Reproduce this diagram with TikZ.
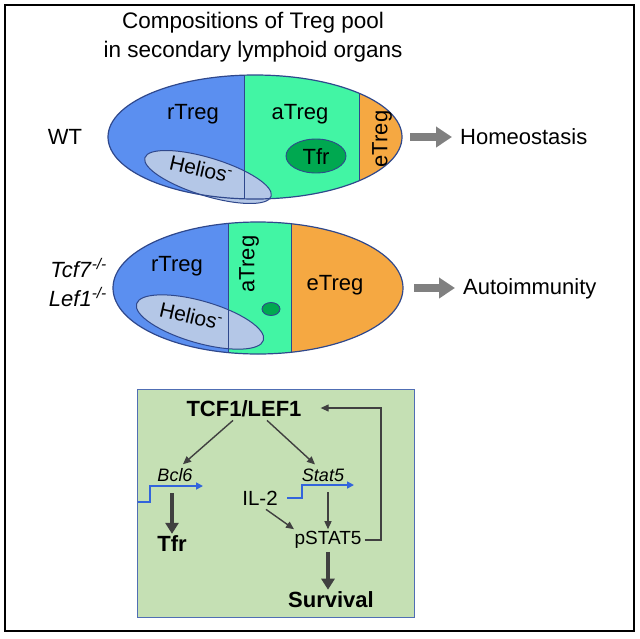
\documentclass[tikz,border=0pt]{standalone}
\usepackage{fontspec}
\setmainfont{Liberation Sans}
\usetikzlibrary{arrows.meta}
\definecolor{rblue}{RGB}{91,143,240}
\definecolor{agreen}{RGB}{66,245,164}
\definecolor{eorange}{RGB}{245,168,66}
\definecolor{tfrgreen}{RGB}{0,168,80}
\definecolor{helblue}{RGB}{180,199,231}
\definecolor{edgeblue}{RGB}{47,72,140}
\definecolor{boxgreen}{RGB}{197,224,180}
\definecolor{boxedge}{RGB}{80,110,180}
\definecolor{promo}{RGB}{50,100,220}
\definecolor{darr}{RGB}{64,64,64}
\definecolor{garr}{RGB}{128,128,128}
\tikzset{
  lbl/.style={inner sep=0pt, font=\fontsize{22}{26}\selectfont},
  hel/.style={inner sep=0pt, font=\fontsize{21}{24}\selectfont},
  gene/.style={inner sep=0pt, font=\fontsize{18}{22}\selectfont\itshape},
  mol/.style={inner sep=0pt, font=\fontsize{19}{23}\selectfont},
  boldlbl/.style={inner sep=0pt, font=\fontsize{22}{26}\selectfont\bfseries},
  divider/.style={draw=edgeblue, line width=0.9pt},
  outline/.style={draw=edgeblue, line width=1.2pt},
  blockarrow/.style={garr, line width=8pt, -{Triangle[length=16pt,width=20pt]}},
  thinarr/.style={darr, line width=1.4pt, -{Triangle[length=8pt,width=7pt]}},
  thickarr/.style={darr, line width=3.5pt, -{Triangle[length=11pt,width=13pt]}},
  promoter/.style={promo, line width=1.6pt, -{Triangle[length=7pt,width=7pt]}},
}
\begin{document}
\begin{tikzpicture}[x=1pt,y=-1pt]
\useasboundingbox (0,0) rectangle (640,638);
\draw[line width=2.5pt] (5,5) rectangle (634,631);

% title
\node[font=\fontsize{22.5}{29}\selectfont, align=center] (title) at (253,37)
  {Compositions of Treg pool\\in secondary lymphoid organs};

% ---------- WT ellipse ----------
\begin{scope}
  \clip (255,137) ellipse [x radius=147, y radius=62];
  \fill[rblue] (100,60) rectangle (244,215);
  \fill[agreen] (244,60) rectangle (359,215);
  \fill[eorange] (359,60) rectangle (410,215);
\end{scope}
\draw[fill=tfrgreen, draw=edgeblue, line width=0.9pt] (316,156) ellipse [x radius=30, y radius=17];
\draw[fill=helblue, draw=edgeblue, line width=1pt] (208,177) ellipse [x radius=66, y radius=19, rotate=-17];
\begin{scope}
  \clip (255,137) ellipse [x radius=147, y radius=62];
  \draw[divider] (244,60) -- (244,215);
  \draw[divider] (359,60) -- (359,215);
\end{scope}
\draw[outline] (255,137) ellipse [x radius=147, y radius=62];

\node[lbl] (wt) at (65,137) {WT};
\node[lbl] (r1) at (193,114) {rTreg};
\node[lbl] (a1) at (300,114) {aTreg};
\node[lbl, rotate=90] (e1) at (382,139) {eTreg};
\node[lbl] (t1) at (316,157) {Tfr};
\node[hel, rotate=-13] (h1) at (201,169) {Helios\textsuperscript{-}};

\coordinate (ha) at (410,137);
\coordinate (hb) at (452,137);
\draw[blockarrow] (ha) -- (hb);
\node[lbl, anchor=west] (homeo) at (460,137) {Homeostasis};

% ---------- KO ellipse ----------
\begin{scope}
  \clip (258,288) ellipse [x radius=145, y radius=66];
  \fill[rblue] (100,210) rectangle (228,360);
  \fill[agreen] (228,210) rectangle (291,360);
  \fill[eorange] (291,210) rectangle (410,360);
\end{scope}
\draw[fill=tfrgreen, draw=edgeblue, line width=0.9pt] (271,309) ellipse [x radius=9, y radius=6.5];
\draw[fill=helblue, draw=edgeblue, line width=1pt] (200,322) ellipse [x radius=66, y radius=21, rotate=-16];
\begin{scope}
  \clip (258,288) ellipse [x radius=145, y radius=66];
  \draw[divider] (228,210) -- (228,360);
  \draw[divider] (291,210) -- (291,360);
\end{scope}
\draw[outline] (258,288) ellipse [x radius=145, y radius=66];

\node[lbl, anchor=east] (tcf7) at (107,268) {\textit{Tcf7}\textsuperscript{\textit{-/-}}};
\node[lbl, anchor=east] (lef1) at (107,297) {\textit{Lef1}\textsuperscript{\textit{-/-}}};
\node[lbl] (r2) at (177,266) {rTreg};
\node[lbl, rotate=90] (a2) at (249,264) {aTreg};
\node[lbl] (e2) at (335,285) {eTreg};
\node[hel, rotate=-13] (h2) at (191,316) {Helios\textsuperscript{-}};

\coordinate (aa) at (414,288);
\coordinate (ab) at (455,288);
\draw[blockarrow] (aa) -- (ab);
\node[lbl, anchor=west] (auto) at (463,289) {Autoimmunity};

% ---------- pathway box ----------
\draw[fill=boxgreen, draw=boxedge, line width=1pt] (137,389) rectangle (414,617);

\node[boldlbl] (tcf) at (244,409) {TCF1/LEF1};
\node[gene] (bcl6) at (175,475) {Bcl6};
\node[gene] (stat5) at (323,475) {Stat5};
\node[mol, font=\fontsize{20.5}{24}\selectfont] (il2) at (260,498) {IL-2};
\node[boldlbl] (tfr) at (172,544) {Tfr};
\node[mol] (pstat) at (328,540) {pSTAT5};
\node[boldlbl] (surv) at (331,600) {Survival};

\draw[thinarr] ([xshift=-11pt,yshift=-3pt]tcf.south) -- ([xshift=8pt,yshift=4pt]bcl6.north);
\draw[thinarr] ([xshift=23pt,yshift=-3pt]tcf.south) -- ([xshift=-8pt,yshift=4pt]stat5.north);

% promoters
\coordinate (p1a) at (137.5,502);
\coordinate (p1b) at (150,486);
\coordinate (p1c) at (203,486);
\draw[promoter] (p1a) -| (p1b) -- (p1c);
\coordinate (p2a) at (287,498);
\coordinate (p2b) at (302,485);
\coordinate (p2c) at (354,485);
\draw[promoter] (p2a) -| (p2b) -- (p2c);

\coordinate (bcs) at (172,493);
\draw[thickarr] (bcs) -- ([yshift=2pt]tfr.north);
\coordinate (sts) at (328,492);
\draw[thinarr] (sts) -- ([yshift=2pt]pstat.north);
\draw[thinarr] ([xshift=6pt,yshift=-4pt]il2.south) -- ([xshift=-34pt,yshift=2pt]pstat.north);
\draw[thickarr] ([yshift=-3pt]pstat.south) -- ([yshift=2pt]pstat.south |- surv.north);

\coordinate (fb1) at (381,540);
\coordinate (fb2) at (381,408);
\draw[thinarr, line width=1.2pt] ([xshift=3pt]pstat.east) -- (fb1) -- (fb2) -- ([xshift=19pt]tcf.east |- fb2);
\end{tikzpicture}
\end{document}
